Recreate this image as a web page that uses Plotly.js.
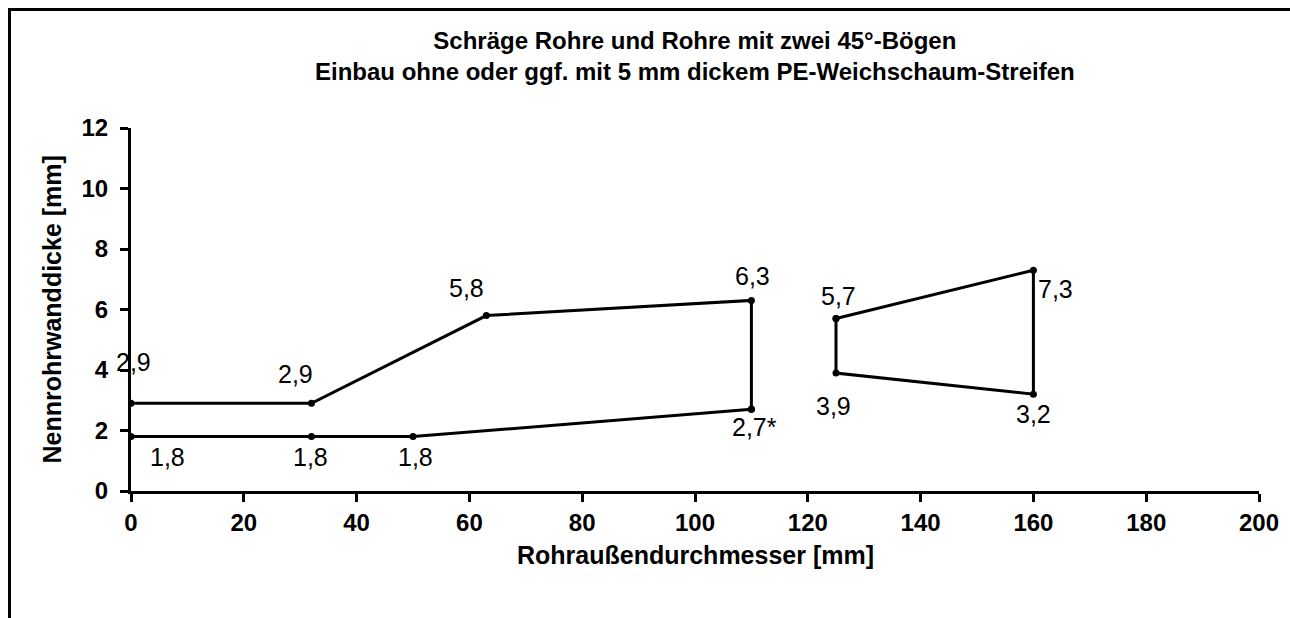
<!DOCTYPE html>
<html>
<head>
<meta charset="utf-8">
<script src="https://cdn.plot.ly/plotly-3.0.1.min.js"></script>
<style>
html,body{margin:0;padding:0;background:#fff;}
#wrap{position:relative;width:1290px;height:618px;overflow:hidden;}
#frame{position:absolute;left:8px;top:8px;width:1290px;height:700px;border-top:3px solid #000;border-left:3px solid #000;pointer-events:none;}
#chart{position:absolute;left:0;top:0;width:1290px;height:618px;}
</style>
</head>
<body>
<div id="wrap"><div id="chart"></div><div id="frame"></div></div>
<script>
// Upper boundary, first range (0–110 mm)
const upperX = [0, 32, 63, 110, 110];
const upperY = [2.9, 2.9, 5.8, 6.3, 2.7];
const upperLabels = ["2,9", "2,9", "5,8", "6,3", "2,7*"];
// Lower boundary, first range
const lowerX = [0, 32, 50, 110];
const lowerY = [1.8, 1.8, 1.8, 2.7];
const lowerLabels = ["1,8", "1,8", "1,8", ""];
// Second range (125–160 mm), closed outline
const secondX = [125, 160, 160, 125, 125];
const secondY = [5.7, 7.3, 3.2, 3.9, 5.7];
const secondLabels = ["5,7", "7,3", "3,2", "3,9", ""];

const xTicks = [0, 20, 40, 60, 80, 100, 120, 140, 160, 180, 200];
const yTicks = [0, 2, 4, 6, 8, 10, 12];

const titleLines = ["Schräge Rohre und Rohre mit zwei 45°-Bögen",
                    "Einbau ohne oder ggf. mit 5 mm dickem PE-Weichschaum-Streifen"];
const xTitle = "Rohraußendurchmesser [mm]";
const yTitle = "Nennrohrwanddicke [mm]";

const FONT = "Liberation Sans, Arial, sans-serif";
const lineStyle = {color: "#000", width: 3};
const markerStyle = {color: "#000", size: 7};

const traces = [
  {x: upperX, y: upperY, mode: "lines+markers", line: lineStyle, marker: markerStyle, hoverinfo: "skip"},
  {x: lowerX, y: lowerY, mode: "lines+markers", line: lineStyle, marker: markerStyle, hoverinfo: "skip"},
  {x: secondX, y: secondY, mode: "lines+markers", line: lineStyle, marker: markerStyle, hoverinfo: "skip"}
];

// label offsets (pixels) per point — styling only
const upperShift = [[2, 41], [-16, 29], [-20, 28], [1, 24], [3, -18]];
const lowerShift = [[36, -20], [-1, -20], [2, -20], [0, 0]];
const secondShift = [[2, 23], [22, -19], [0, -20], [-3, -33], [0, 0]];

const annotations = [];
function addLabels(xs, ys, labels, shifts) {
  xs.forEach((x, i) => {
    if (!labels[i]) return;
    annotations.push({
      x: x, y: ys[i], xref: "x", yref: "y", text: labels[i], showarrow: false,
      xshift: shifts[i][0], yshift: shifts[i][1],
      font: {family: FONT, size: 25, color: "#000"}
    });
  });
}
addLabels(upperX, upperY, upperLabels, upperShift);
addLabels(lowerX, lowerY, lowerLabels, lowerShift);
addLabels(secondX, secondY, secondLabels, secondShift);

// chart title (two lines, centred over the plot area)
annotations.push({
  xref: "paper", yref: "paper", x: 0.5, y: 1.198, xanchor: "center", yanchor: "middle",
  showarrow: false, text: "<b>" + titleLines.join("<br>") + "</b>",
  font: {family: FONT, size: 24, color: "#000"}
});
// axis titles
annotations.push({
  xref: "paper", yref: "paper", x: 0, xshift: -80, y: 0.5, xanchor: "center", yanchor: "middle",
  textangle: -90, showarrow: false, text: "<b>" + yTitle + "</b>",
  font: {family: FONT, size: 25, color: "#000"}
});
annotations.push({
  xref: "paper", yref: "paper", x: 0.5, y: 0, yshift: -64, xanchor: "center", yanchor: "middle",
  showarrow: false, text: "<b>" + xTitle + "</b>",
  font: {family: FONT, size: 25, color: "#000"}
});

const layout = {
  width: 1290, height: 618,
  margin: {l: 131, r: 31, t: 128, b: 127},
  paper_bgcolor: "#fff", plot_bgcolor: "#fff",
  showlegend: false,
  xaxis: {
    range: [0, 200], tickvals: xTicks, ticktext: xTicks.map(String),
    showgrid: false, zeroline: false, showline: true, linecolor: "#000", linewidth: 3,
    ticks: "outside", ticklen: 8, tickwidth: 3, tickcolor: "#000",
    tickfont: {family: FONT, size: 24, color: "#000", weight: "bold"},
    ticklabelstandoff: 0,
    fixedrange: true
  },
  yaxis: {
    range: [0, 12], tickvals: yTicks, ticktext: yTicks.map(String),
    showgrid: false, zeroline: false, showline: true, linecolor: "#000", linewidth: 3,
    ticks: "outside", ticklen: 8, tickwidth: 3, tickcolor: "#000",
    tickfont: {family: FONT, size: 24, color: "#000", weight: "bold"},
    ticklabelstandoff: 7,
    fixedrange: true
  },
  annotations: annotations
};

Plotly.newPlot("chart", traces, layout, {displayModeBar: false, staticPlot: true});
</script>
</body>
</html>
